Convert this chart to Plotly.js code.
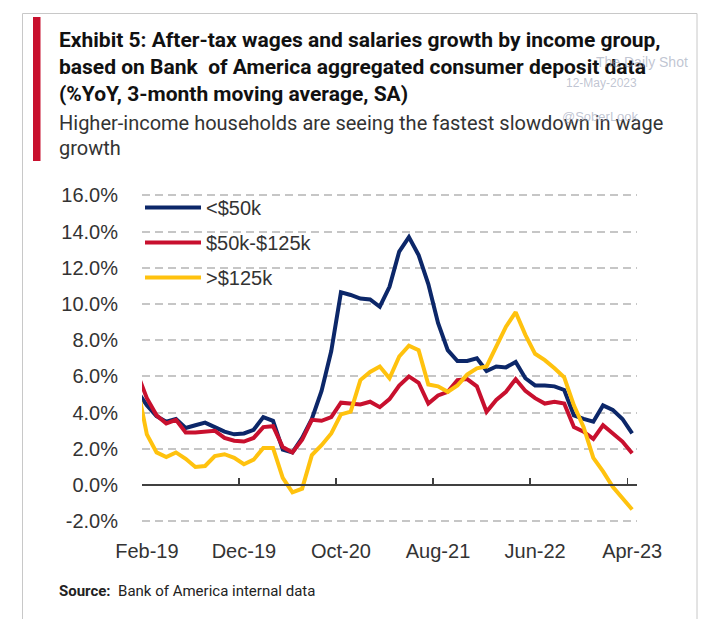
<!DOCTYPE html>
<html>
<head>
<meta charset="utf-8">
<script src="https://cdn.plot.ly/plotly-3.0.1.min.js"></script>
<style>html,body{margin:0;padding:0;background:#fff;}#chart{width:722px;height:619px;}</style>
</head>
<body>
<div id="chart"></div>
<script>
// ---- Data (monthly, %YoY 3mma) ----
const months = [
  'Jan-19','Feb-19','Mar-19','Apr-19','May-19','Jun-19','Jul-19','Aug-19','Sep-19','Oct-19','Nov-19','Dec-19',
  'Jan-20','Feb-20','Mar-20','Apr-20','May-20','Jun-20','Jul-20','Aug-20','Sep-20','Oct-20','Nov-20','Dec-20',
  'Jan-21','Feb-21','Mar-21','Apr-21','May-21','Jun-21','Jul-21','Aug-21','Sep-21','Oct-21','Nov-21','Dec-21',
  'Jan-22','Feb-22','Mar-22','Apr-22','May-22','Jun-22','Jul-22','Aug-22','Sep-22','Oct-22','Nov-22','Dec-22',
  'Jan-23','Feb-23','Mar-23','Apr-23'
];
const under50k = [
  5.2, 4.4, 3.8, 3.5, 3.65, 3.15, 3.3, 3.45, 3.2, 2.95, 2.8, 2.85,
  3.05, 3.75, 3.55, 1.95, 1.8, 2.6, 3.65, 5.2, 7.4, 10.65, 10.5, 10.3,
  10.25, 9.85, 10.95, 12.9, 13.7, 12.7, 11.1, 8.95, 7.45, 6.85, 6.85, 7.0,
  6.3, 6.55, 6.5, 6.8, 5.9, 5.5, 5.5, 5.45, 5.25, 3.85, 3.65, 3.5,
  4.4, 4.15, 3.65, 2.85
];
const from50kTo125k = [
  6.2, 4.8, 3.85, 3.4, 3.6, 2.9, 2.9, 2.95, 3.0, 2.6, 2.45, 2.4,
  2.6, 3.2, 3.25, 2.1, 1.8, 2.5, 3.6, 3.55, 3.75, 4.55, 4.5, 4.45,
  4.6, 4.3, 4.75, 5.5, 6.0, 5.65, 4.5, 4.95, 5.15, 5.8, 5.85, 5.45,
  4.05, 4.7, 5.15, 5.85, 5.2, 4.8, 4.5, 4.6, 4.5, 3.2, 2.95, 2.55,
  3.3, 2.85, 2.4, 1.75
];
const over125k = [
  5.5, 2.8, 1.8, 1.55, 1.8, 1.45, 1.0, 1.05, 1.6, 1.7, 1.5, 1.15,
  1.4, 2.05, 2.05, 0.4, -0.4, -0.2, 1.65, 2.2, 2.85, 3.9, 4.05, 5.8,
  6.25, 6.55, 5.9, 7.1, 7.7, 7.45, 5.55, 5.45, 5.15, 5.5, 6.1, 6.45,
  6.55, 7.65, 8.75, 9.55, 8.3, 7.25, 6.9, 6.45, 5.95, 4.4, 3.2, 1.5,
  0.75, -0.1, -0.75, -1.35
];
const seriesNames = ['<$50k', '$50k-$125k', '>$125k'];
const xTickLabels = ['Feb-19', 'Dec-19', 'Oct-20', 'Aug-21', 'Jun-22', 'Apr-23'];
const yTickValues = [-2, 0, 2, 4, 6, 8, 10, 12, 14, 16];
const yTickLabels = ['-2.0%', '0.0%', '2.0%', '4.0%', '6.0%', '8.0%', '10.0%', '12.0%', '14.0%', '16.0%'];

// ---- Layout geometry ----
const W = 722, H = 619;
const M = {l: 142, r: 85, t: 190, b: 92};
const PW = W - M.l - M.r, PH = H - M.t - M.b;
const px = X => (X - M.l) / PW;
const py = Y => (H - M.b - Y) / PH;

const xIdx = months.map((m, i) => i);
const firstShown = months.indexOf(xTickLabels[0]);
const xRange = [firstShown - 0.5, months.length - 0.5];
const yRange = [-2.32, 16.3];
const labelIdx = xTickLabels.map(l => months.indexOf(l));
const boundaryIdx = labelIdx.map(i => i - 0.5);

const colors = ['#0c2769', '#c8102e', '#ffc20e'];
const values = [under50k, from50kTo125k, over125k];

const traces = values.map((v, k) => ({
  type: 'scatter', mode: 'lines', x: xIdx, y: v, name: seriesNames[k],
  legendgroup: 'g' + k,
  line: {color: colors[k], width: 4, shape: 'linear'},
  hoverinfo: 'skip'
}));
traces.push({type: 'scatter', mode: 'lines', x: [], y: [], xaxis: 'x2', yaxis: 'y', showlegend: false, hoverinfo: 'skip'});

const titleFont = 'Roboto, "Liberation Sans", sans-serif';
const regular = '"Liberation Sans", Arial, sans-serif';

const annotations = [
  {text: '<b>Exhibit 5: After-tax wages and salaries growth by income group,</b>', x: px(57), y: py(40)},
  {text: '<b>based on Bank  of America aggregated consumer deposit data</b>', x: px(57), y: py(67)},
  {text: '<b>(%YoY, 3-month moving average, SA)</b>', x: px(57), y: py(94)},
  {text: 'Higher-income households are seeing the fastest slowdown in wage', x: px(57), y: py(123), sub: true},
  {text: 'growth', x: px(57), y: py(148), sub: true}
].map(a => ({
  text: a.text, x: a.x, y: a.y, xref: 'paper', yref: 'paper', xanchor: 'left', yanchor: 'middle',
  showarrow: false,
  font: {family: titleFont, size: a.sub ? 20 : 21, color: a.sub ? '#333333' : '#111111'}
}));
annotations.push(
  {text: '<b>Source:</b>  Bank of America internal data', x: px(57), y: py(591), xref: 'paper', yref: 'paper',
   xanchor: 'left', yanchor: 'middle', showarrow: false, font: {family: titleFont, size: 15, color: '#222'}},
  {text: 'The Daily Shot', x: px(690), y: py(62), xref: 'paper', yref: 'paper', xanchor: 'right', yanchor: 'middle',
   showarrow: false, font: {family: regular, size: 14, color: 'rgba(150,158,180,0.6)'}},
  {text: '12-May-2023', x: px(601), y: py(83), xref: 'paper', yref: 'paper', xanchor: 'center', yanchor: 'middle',
   showarrow: false, font: {family: regular, size: 12, color: 'rgba(150,158,180,0.6)'}},
  {text: '@SoberLook', x: px(600), y: py(117), xref: 'paper', yref: 'paper', xanchor: 'center', yanchor: 'middle',
   showarrow: false, font: {family: regular, size: 13, color: 'rgba(150,158,180,0.6)'}}
);

const shapes = [
  {type: 'rect', xref: 'paper', yref: 'paper', x0: px(22.5), x1: px(697), y0: py(13.5), y1: py(640),
   line: {color: '#c8c8c8', width: 1}, fillcolor: 'rgba(0,0,0,0)', layer: 'below'},
  {type: 'rect', xref: 'paper', yref: 'paper', x0: px(33), x1: px(40.5), y0: py(17), y1: py(161),
   line: {width: 0}, fillcolor: '#c8102e'}
];

const layout = {
  width: W, height: H, margin: M,
  paper_bgcolor: '#ffffff', plot_bgcolor: '#ffffff',
  showlegend: true,
  legend: {
    x: px(140), y: py(188), xanchor: 'left', yanchor: 'top',
    bgcolor: 'rgba(0,0,0,0)', font: {family: regular, size: 20, color: '#333'},
    traceorder: 'grouped', tracegroupgap: 6, itemwidth: 56
  },
  xaxis: {
    range: xRange, showgrid: false, zeroline: false, showline: false, ticks: '',
    tickmode: 'array', tickvals: labelIdx, ticktext: xTickLabels,
    tickfont: {family: regular, size: 20, color: '#333'}, ticklabelstandoff: 10, fixedrange: true
  },
  xaxis2: {
    overlaying: 'x', anchor: 'free', position: (0 - yRange[0]) / (yRange[1] - yRange[0]), side: 'bottom',
    range: xRange, showgrid: false, zeroline: false, showline: true, linecolor: '#404040', linewidth: 2,
    ticks: 'inside', ticklen: 6, tickwidth: 1.5, tickcolor: '#404040',
    tickmode: 'array', tickvals: boundaryIdx, showticklabels: false, fixedrange: true
  },
  yaxis: {
    range: yRange, showgrid: true, gridcolor: '#c6c6c6', gridwidth: 2, griddash: '8px,5px',
    zeroline: false, showline: false, ticks: '',
    tickmode: 'array', tickvals: yTickValues, ticktext: yTickLabels,
    tickfont: {family: regular, size: 20, color: '#333'}, ticklabelstandoff: 23, fixedrange: true
  },
  annotations: annotations,
  shapes: shapes
};

Plotly.newPlot('chart', traces, layout, {displayModeBar: false, staticPlot: true});
</script>
</body>
</html>
